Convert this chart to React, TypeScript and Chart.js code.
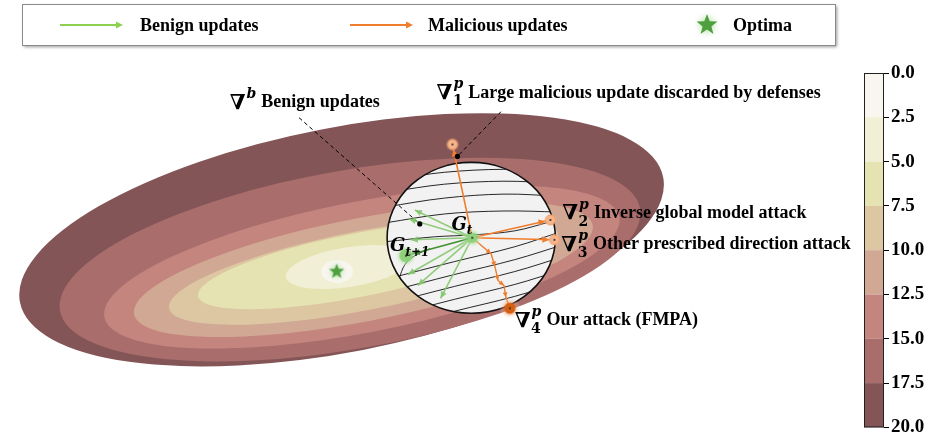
import { useEffect, useRef } from "react";
import { Chart, registerables } from "chart.js";

Chart.register(...registerables);

// ---------------- data (model-parameter space, optimum at origin) ----------------
const colorbarTicks = [0, 2.5, 5, 7.5, 10, 12.5, 15, 17.5, 20];

// filled loss contours, outermost band first (upper bound of each band)
const contourUpper = [20, 17.5, 15, 12.5, 10, 7.5, 5, 2.5];
const contourCx = [0.05, 0.135, 0.255, 0.27, 0.27, 0.19, 0.12, 0.005];
const contourCy = [0.32, 0.12, 0.045, 0.02, 0.01, 0.06, 0.045, 0.0];
const contourA = [3.31, 2.975, 2.65, 2.36, 2.0, 1.62, 0.64, 0.16];
const contourB = [1.13, 0.9, 0.66, 0.52, 0.4, 0.32, 0.2, 0.115];
const contourTilt = [11, 10, 11, 11, 11, 11, 9, 0];

// zoomed neighbourhood of the global model
const regionCenter = [1.36, 0.34];
const regionRadii = [0.85, 0.76];

// local contour lines inside the neighbourhood
const innerContours = [
  [[0.59, 0.93], [1.09, 1.0], [1.69, 1.03], [2.24, 1.01]],
  [[0.52, 0.8], [1.09, 0.88], [1.69, 0.91], [2.24, 0.89]],
  [[0.49, 0.65], [1.09, 0.74], [1.69, 0.78], [2.24, 0.76]],
  [[0.49, 0.49], [1.09, 0.58], [1.69, 0.61], [2.24, 0.6]],
  [[0.49, 0.3], [0.99, 0.35], [1.39, 0.37], [1.8, 0.41], [2.19, 0.51]],
  [[0.49, -0.08], [1.19, 0.1], [1.8, 0.25], [2.29, 0.41]],
  [[0.49, -0.21], [1.19, -0.03], [1.8, 0.12], [2.29, 0.27]],
  [[0.49, -0.33], [1.19, -0.15], [1.8, 0.0], [2.29, 0.15]],
  [[0.49, -0.46], [1.19, -0.28], [1.8, -0.13], [2.29, 0.02]],
  [[0.49, -0.58], [1.19, -0.4], [1.8, -0.25], [2.29, -0.1]],
  [[0.89, -0.62], [1.8, -0.37], [2.29, -0.22]],
  [[0.94, 0.23], [0.79, 0.16], [0.69, 0.07], [0.63, -0.07]],
];

const optimum = [0, 0];
const gT = [1.37, 0.34];
const gNext = [0.7, 0.16];
const benignEnds = [
  [0.79, 0.62],
  [0.73, 0.53],
  [0.75, 0.32],
  [0.72, -0.03],
  [0.82, -0.14],
  [1.05, -0.27],
];
const maliciousEnds = [
  [1.17, 1.28],
  [2.16, 0.52],
  [2.2, 0.32],
];
const fmpaPath = [
  [1.37, 0.34],
  [1.56, 0.18],
  [1.6, 0.05],
  [1.63, -0.09],
  [1.69, -0.14],
  [1.71, -0.26],
  [1.75, -0.37],
];
const benignLeader = [
  [-0.38, 1.55],
  [0.84, 0.48],
];
const maliciousLeader = [
  [1.66, 1.61],
  [1.22, 1.16],
];

const legendLabels = ["Benign updates", "Malicious updates", "Optima"];
const annotationSup = ["b", "p", "p", "p", "p"];
const annotationSub = ["", "1", "2", "3", "4"];
const annotationText = [
  "Benign updates",
  "Large malicious update discarded by defenses",
  "Inverse global model attack",
  "Other prescribed direction attack",
  "Our attack (FMPA)",
];
const annotationAt = [
  [-1.08, 1.7],
  [1.01, 1.8],
  [2.28, 0.59],
  [2.27, 0.27],
  [1.8, -0.49],
];
const pointLabelSub = ["t", "t+1"];
const pointLabelAt = [
  [1.16, 0.47],
  [0.54, 0.25],
];

// ---------------- styles ----------------
const bandPalette = ["#f8f6ee", "#f1efd5", "#e6e3b2", "#dcc7a2", "#d0a894", "#c4857f", "#a96d6c", "#845557"];
const bandColor = (upper: number) => bandPalette[Math.round(upper / 2.5) - 1];
const SERIF = '"Liberation Serif", "Times New Roman", serif';
const MATH = '"DejaVu Serif", serif';

const pt = (p: number[]) => ({ x: p[0], y: p[1] });
const GAP = { x: null, y: null };

function glowDot(core: string, coreR: number, glow: string, glowR: number, stroke?: string, dot = "#222") {
  const s = Math.ceil(glowR * 2 + 2);
  const c = document.createElement("canvas");
  c.width = s;
  c.height = s;
  const g = c.getContext("2d")!;
  const m = s / 2;
  const grad = g.createRadialGradient(m, m, coreR * 0.6, m, m, glowR);
  grad.addColorStop(0, glow);
  grad.addColorStop(1, "rgba(255,255,255,0)");
  g.fillStyle = grad;
  g.beginPath();
  g.arc(m, m, glowR, 0, Math.PI * 2);
  g.fill();
  g.fillStyle = core;
  g.beginPath();
  g.arc(m, m, coreR, 0, Math.PI * 2);
  g.fill();
  if (stroke) {
    g.strokeStyle = stroke;
    g.lineWidth = 1;
    g.stroke();
  }
  if (dot) {
    g.fillStyle = dot;
    g.beginPath();
    g.arc(m, m, 1, 0, Math.PI * 2);
    g.fill();
  }
  return c;
}

function starImage(outer: number, fill: string, glow: string) {
  const s = Math.ceil(outer * 2 + 10);
  const c = document.createElement("canvas");
  c.width = s;
  c.height = s;
  const g = c.getContext("2d")!;
  const m = s / 2;
  const grad = g.createRadialGradient(m, m, outer * 0.3, m, m, outer + 4);
  grad.addColorStop(0, glow);
  grad.addColorStop(1, "rgba(255,255,255,0)");
  g.fillStyle = grad;
  g.beginPath();
  g.arc(m, m, outer + 4, 0, Math.PI * 2);
  g.fill();
  g.beginPath();
  for (let k = 0; k < 10; k++) {
    const r = k % 2 === 0 ? outer : outer * 0.42;
    const a = -Math.PI / 2 + (k * Math.PI) / 5;
    const px = m + r * Math.cos(a);
    const py = m + r * Math.sin(a);
    if (k === 0) g.moveTo(px, py);
    else g.lineTo(px, py);
  }
  g.closePath();
  g.fillStyle = fill;
  g.fill();
  return c;
}

function regionPath(chart: any) {
  const { ctx, scales } = chart;
  const { x, y } = scales;
  const sx = x.getPixelForValue(1) - x.getPixelForValue(0);
  const sy = y.getPixelForValue(0) - y.getPixelForValue(1);
  ctx.beginPath();
  ctx.ellipse(
    x.getPixelForValue(regionCenter[0]),
    y.getPixelForValue(regionCenter[1]),
    regionRadii[0] * sx,
    regionRadii[1] * sy,
    0,
    0,
    Math.PI * 2
  );
}

function drawHead(ctx: CanvasRenderingContext2D, x0: number, y0: number, x1: number, y1: number, len: number, w: number, inset: number, color: string) {
  const dx = x1 - x0;
  const dy = y1 - y0;
  const d = Math.hypot(dx, dy) || 1;
  const ux = dx / d;
  const uy = dy / d;
  const tx = x1 - ux * inset;
  const ty = y1 - uy * inset;
  ctx.beginPath();
  ctx.moveTo(tx, ty);
  ctx.lineTo(tx - ux * len - uy * w, ty - uy * len + ux * w);
  ctx.lineTo(tx - ux * len + uy * w, ty - uy * len - ux * w);
  ctx.closePath();
  ctx.fillStyle = color;
  ctx.fill();
}

const figurePlugin = {
  id: "figure",
  beforeDatasetsDraw(chart: any) {
    const { ctx, chartArea, scales } = chart;
    const { x, y, cbar } = scales;
    const sx = x.getPixelForValue(1) - x.getPixelForValue(0);
    const sy = y.getPixelForValue(0) - y.getPixelForValue(1);
    ctx.save();
    contourUpper.forEach((u, i) => {
      ctx.beginPath();
      ctx.ellipse(
        x.getPixelForValue(contourCx[i]),
        y.getPixelForValue(contourCy[i]),
        contourA[i] * sx,
        contourB[i] * sy,
        (-contourTilt[i] * Math.PI) / 180,
        0,
        Math.PI * 2
      );
      ctx.fillStyle = bandColor(u);
      ctx.fill();
    });
    // neighbourhood disc
    regionPath(chart);
    ctx.fillStyle = "#f2f2f2";
    ctx.fill();
    // colour bar
    const barW = 20;
    const left = chartArea.right - barW;
    for (let k = 0; k < colorbarTicks.length - 1; k++) {
      const t = cbar.getPixelForValue(colorbarTicks[k]);
      const b = cbar.getPixelForValue(colorbarTicks[k + 1]);
      ctx.fillStyle = bandColor(colorbarTicks[k + 1]);
      ctx.fillRect(left, t, barW, b - t);
    }
    const top = cbar.getPixelForValue(colorbarTicks[0]);
    const bot = cbar.getPixelForValue(colorbarTicks[colorbarTicks.length - 1]);
    ctx.strokeStyle = "#222";
    ctx.lineWidth = 1;
    ctx.strokeRect(left + 0.5, top + 0.5, barW - 1, bot - top - 1);
    ctx.restore();
  },
  beforeDatasetDraw(chart: any, args: any) {
    const ds = chart.data.datasets[args.index];
    if (ds.clipRegion) {
      chart.ctx.save();
      regionPath(chart);
      chart.ctx.clip();
    }
  },
  afterDatasetDraw(chart: any, args: any) {
    const ds = chart.data.datasets[args.index];
    const ctx = chart.ctx;
    if (ds.clipRegion) {
      ctx.restore();
      ctx.save();
      regionPath(chart);
      ctx.strokeStyle = "#111";
      ctx.lineWidth = 1.6;
      ctx.stroke();
      ctx.restore();
    }
    if (ds.arrowHead) {
      const pts = args.meta.data;
      ctx.save();
      for (let i = 1; i < pts.length; i++) {
        const a = pts[i - 1];
        const b = pts[i];
        if (a.skip || b.skip) continue;
        drawHead(ctx, a.x, a.y, b.x, b.y, ds.arrowHead.len, ds.arrowHead.w, ds.arrowHead.inset, ds.borderColor);
      }
      ctx.restore();
    }
  },
  afterDatasetsDraw(chart: any) {
    const { ctx, scales } = chart;
    const { x, y } = scales;
    ctx.save();
    ctx.fillStyle = "#000";
    ctx.textBaseline = "middle";
    ctx.textAlign = "left";
    annotationText.forEach((txt, i) => {
      const px = x.getPixelForValue(annotationAt[i][0]);
      const py = y.getPixelForValue(annotationAt[i][1]);
      ctx.font = `bold 21px ${MATH}`;
      ctx.fillText("\u2207", px, py + 1);
      const w = ctx.measureText("\u2207").width;
      ctx.font = `italic bold 14px ${MATH}`;
      ctx.fillText(annotationSup[i], px + w + 1, py - 8);
      let sw = ctx.measureText(annotationSup[i]).width;
      if (annotationSub[i]) {
        ctx.font = `bold 14px ${MATH}`;
        ctx.fillText(annotationSub[i], px + w + 0.5, py + 9);
        sw = Math.max(sw, ctx.measureText(annotationSub[i]).width);
      }
      ctx.font = `bold 18px ${SERIF}`;
      ctx.fillText(txt, px + w + sw + 6, py);
    });
    pointLabelSub.forEach((sub, i) => {
      const px = x.getPixelForValue(pointLabelAt[i][0]);
      const py = y.getPixelForValue(pointLabelAt[i][1]);
      ctx.font = `italic bold 18px ${MATH}`;
      ctx.fillText("G", px, py);
      const w = ctx.measureText("G").width;
      ctx.font = `italic bold 12px ${MATH}`;
      ctx.fillText(sub, px + w, py + 6);
    });
    ctx.restore();
  },
  afterDraw(chart: any) {
    const ctx = chart.ctx;
    ctx.save();
    ctx.shadowColor = "rgba(0,0,0,0.4)";
    ctx.shadowBlur = 3;
    ctx.shadowOffsetX = 2;
    ctx.shadowOffsetY = 2;
    ctx.fillStyle = "#fff";
    ctx.fillRect(22, 4, 813, 41);
    ctx.shadowColor = "transparent";
    ctx.strokeStyle = "#8a8a8a";
    ctx.lineWidth = 1;
    ctx.strokeRect(22.5, 4.5, 813, 41);
    const items = chart.data.datasets
      .filter((d: any) => d.legendRank !== undefined)
      .sort((a: any, b: any) => a.legendRank - b.legendRank);
    const symbolX = [60, 350, 695];
    const textX = [140, 428, 733];
    const yc = 25;
    items.forEach((d: any, i: number) => {
      if (d.legendSymbol === "arrow") {
        ctx.strokeStyle = d.legendColor;
        ctx.lineWidth = 2;
        ctx.beginPath();
        ctx.moveTo(symbolX[i], yc);
        ctx.lineTo(symbolX[i] + 57, yc);
        ctx.stroke();
        drawHead(ctx, symbolX[i], yc, symbolX[i] + 63, yc, 7, 3.5, 0, d.legendColor);
      } else if (d.legendSymbol === "star") {
        const img = d.legendImage as HTMLCanvasElement;
        ctx.drawImage(img, symbolX[i] + 12 - img.width / 2, yc - img.height / 2);
      }
      ctx.fillStyle = "#000";
      ctx.font = `bold 18px ${SERIF}`;
      ctx.textBaseline = "middle";
      ctx.fillText(d.label, textX[i], yc + 1);
    });
    ctx.restore();
  },
};

export default function App() {
  const ref = useRef<HTMLCanvasElement>(null);
  useEffect(() => {
    document.body.style.margin = "0";
    const green = "rgba(128,198,104,0.85)";
    const orange = "#f07d2c";
    const benignData: any[] = [];
    benignEnds.forEach((e) => benignData.push(pt(gT), pt(e), GAP));
    const maliciousData: any[] = [];
    maliciousEnds.forEach((e) => maliciousData.push(pt(gT), pt(e), GAP));
    const leaderData = [pt(benignLeader[0]), pt(benignLeader[1]), GAP, pt(maliciousLeader[0]), pt(maliciousLeader[1])];
    const contourData: any[] = [];
    innerContours.forEach((line) => {
      line.forEach((p) => contourData.push(pt(p)));
      contourData.push(GAP);
    });

    const gImg = glowDot("#8fd07a", 5, "rgba(120,200,95,0.8)", 11);
    const gNextImg = glowDot("#8fd07a", 6.5, "rgba(120,200,95,0.8)", 12);
    const nablaImg = glowDot("#f7b58c", 5, "rgba(247,170,120,0.5)", 7, "#f2995f");
    const fmpaImg = glowDot("#d65f10", 5.5, "rgba(220,100,20,0.7)", 11);
    const starPlot = starImage(8, "#4f9f3e", "rgba(150,210,130,0.6)");
    const starLegend = starImage(11, "#4f9f3e", "rgba(150,210,130,0.6)");

    const line = { showLine: true, pointRadius: 0, pointHoverRadius: 0, fill: false, spanGaps: false };

    const chart = new Chart(ref.current!, {
      type: "scatter",
      data: {
        datasets: [
          { label: legendLabels[2], data: [pt(optimum)], pointStyle: starPlot, pointRadius: 8, order: 1, legendRank: 2, legendSymbol: "star", legendImage: starLegend },
          { label: "G", data: [pt(gT), pt(gNext)], pointStyle: [gImg, gNextImg], pointRadius: 8, order: 2 },
          { label: "attack points", data: maliciousEnds.map(pt), pointStyle: nablaImg, pointRadius: 6, order: 3 },
          { label: "fmpa point", data: [pt(fmpaPath[fmpaPath.length - 1])], pointStyle: fmpaImg, pointRadius: 8, order: 3 },
          { label: "leader dots", data: [pt(benignLeader[1]), pt(maliciousLeader[1])], pointRadius: 2.6, pointBackgroundColor: "#000", pointBorderWidth: 0, order: 4 },
          { ...line, label: legendLabels[1], data: maliciousData, borderColor: orange, borderWidth: 1.6, arrowHead: { len: 7, w: 3.2, inset: 5 }, order: 20, legendRank: 1, legendSymbol: "arrow", legendColor: orange },
          { ...line, label: "fmpa", data: fmpaPath.map(pt), borderColor: orange, borderWidth: 1.4, arrowHead: { len: 5, w: 2.4, inset: 0 }, order: 19 },
          { ...line, label: "aggregate", data: [pt(gT), pt(gNext)], borderColor: "#3f8f31", borderWidth: 1.6, arrowHead: { len: 7, w: 3.2, inset: 7 }, order: 28 },
          { ...line, label: legendLabels[0], data: benignData, borderColor: green, borderWidth: 1.6, arrowHead: { len: 7, w: 3.2, inset: 0 }, order: 30, legendRank: 0, legendSymbol: "arrow", legendColor: "#8cd150" },
          { ...line, label: "leaders", data: leaderData, borderColor: "#000", borderWidth: 1, borderDash: [4, 3], order: 40 },
          { ...line, label: "contours", data: contourData, borderColor: "#111", borderWidth: 0.9, tension: 0.35, clipRegion: true, order: 50 },
        ],
      } as any,
      options: {
        responsive: false,
        animation: false,
        events: [],
        layout: { padding: { top: 73, left: 0, right: 0, bottom: 7 } },
        plugins: { legend: { display: false }, tooltip: { enabled: false } },
        scales: {
          x: { type: "linear", min: -3.31, max: 5.53, display: false },
          y: { type: "linear", min: -1.57, max: 2.0, display: false },
          cbar: {
            type: "linear",
            position: "right",
            min: 0,
            max: 20,
            reverse: true,
            afterFit: (s: any) => {
              s.width = 46;
            },
            afterBuildTicks: (s: any) => {
              s.ticks = colorbarTicks.map((v) => ({ value: v }));
            },
            grid: { drawOnChartArea: false, color: "#000", tickLength: 5, lineWidth: 1 },
            border: { display: false },
            ticks: {
              color: "#000",
              padding: 2,
              callback: (v: any) => Number(v).toFixed(1),
              font: { family: SERIF, weight: "bold", size: 19, lineHeight: 0.8 },
            },
          },
        },
      } as any,
      plugins: [figurePlugin],
    } as any);
    return () => chart.destroy();
  }, []);
  return (
    <div style={{ width: 930, height: 437 }}>
      <canvas ref={ref} width={930} height={437} style={{ display: "block" }} />
    </div>
  );
}
